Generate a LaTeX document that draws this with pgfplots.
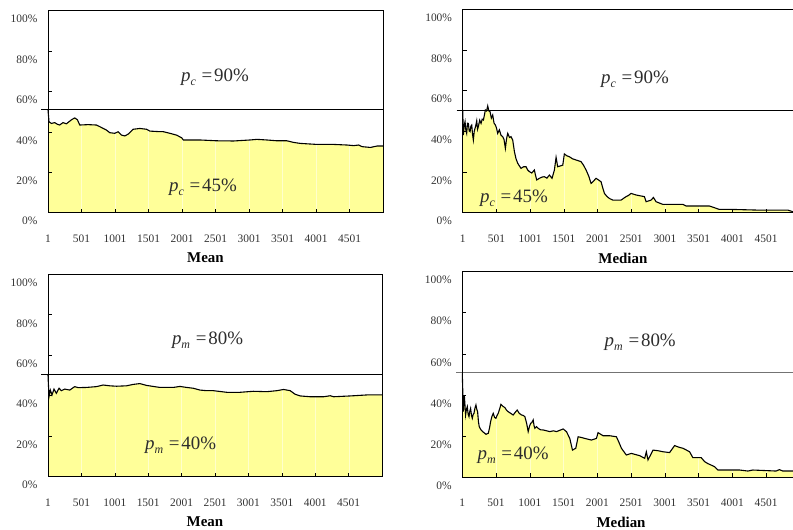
\documentclass[border=0pt]{standalone}
\usepackage{fontspec}
\setmainfont{Liberation Serif}
\usepackage{pgfplots}
\pgfplotsset{compat=1.18}
\usepackage{pgfplotstable}
\definecolor{fillyellow}{RGB}{255,255,153}
\definecolor{anntext}{RGB}{45,45,45}

\pgfplotstableread{
x y
1 51
16 45.0
51 44.2
101 44.6
140 43.8
175 43.4
225 44.6
275 44.0
325 45.3
360 46.2
400 46.9
440 46.0
475 43.4
600 43.6
724 43.4
774 42.6
873 40.9
923 39.6
998 39.3
1048 40.1
1098 38.4
1148 38.0
1197 38.9
1272 41.3
1372 41.7
1472 41.3
1521 40.4
1671 40.1
1721 40.1
1821 39.3
1920 38.4
1995 37.1
2020 36.0
2269 36.0
2518 35.6
2768 35.5
3017 36.0
3117 36.3
3266 36.0
3416 35.6
3565 35.6
3665 34.8
3765 34.3
4014 33.8
4263 33.8
4463 33.5
4562 33.2
4637 33.5
4687 32.7
4812 32.3
4911 33.0
5000 33.0
}\tlmean

\pgfplotstableread{
x y
1 50.5
11 38.2
24 43.0
36 44.8
48 40.5
60 39.0
72 44.0
85 43.9
97 40.2
110 39.8
122 42.5
135 43.1
147 38.5
159 35.7
172 40.0
184 41.5
196 43.0
209 45.2
221 41.0
233 42.3
253 45.5
273 43.9
290 46.0
308 45.6
323 48.0
337 50.5
355 50.0
372 52.5
389 50.0
406 49.7
426 46.5
446 48.0
466 44.0
486 43.1
503 41.5
520 39.0
545 40.7
570 38.0
594 37.4
614 36.0
634 31.6
652 36.5
669 39.0
695 37.0
718 37.4
743 35.7
768 30.0
792 26.5
817 24.3
842 23.0
866 21.8
905 22.6
941 22.6
965 21.0
990 20.2
1025 19.5
1064 21.0
1080 18.5
1099 16.1
1138 16.9
1175 17.5
1213 17.7
1250 17.0
1287 18.5
1326 16.9
1361 21.0
1386 27.2
1410 22.6
1450 23.0
1485 23.4
1509 28.9
1545 28.0
1583 27.5
1630 26.5
1682 25.9
1720 25.5
1756 25.1
1790 23.5
1831 21.0
1870 18.0
1905 14.4
1940 15.5
1979 16.9
2020 16.0
2053 15.2
2080 12.0
2103 9.5
2140 8.0
2177 7.0
2226 6.2
2350 6.2
2424 7.9
2460 8.5
2498 9.5
2572 8.7
2696 7.9
2721 5.4
2795 6.2
2830 7.5
2869 5.4
2968 4.1
3265 4.1
3314 3.3
3660 3.3
3809 1.6
4006 1.6
4353 1.3
4823 1.3
4897 0.5
}\trmedian

\pgfplotstableread{
x y
1 50.2
16 39.5
36 42.8
61 40.4
91 43.3
126 41.2
166 43.7
201 42.5
251 43.3
326 42.8
401 44.5
451 44.0
576 44.1
726 44.5
826 45.3
926 44.9
1026 44.7
1176 44.9
1276 45.6
1376 46.0
1476 45.1
1576 44.6
1676 44.1
1876 44.1
1976 44.6
2076 44.1
2176 43.7
2276 42.8
2376 42.5
2476 42.5
2676 41.7
2876 41.7
3076 42.2
3276 42.0
3426 42.5
3526 43.1
3626 42.5
3701 40.7
3776 39.9
3926 39.5
4126 39.5
4226 40.0
4276 39.5
4526 39.9
4776 40.4
5000 40.4
}\blmean

\pgfplotstableread{
x y
1 50.5
16 31.8
31 39.9
50 30.2
62 33.0
75 34.3
88 30.5
100 29.4
112 32.0
124 33.4
137 30.0
149 28.6
162 30.5
174 31.0
188 33.5
203 35.1
215 33.0
228 31.8
240 27.0
252 24.5
277 23.0
302 22.1
326 21.5
351 20.8
386 21.3
405 24.0
420 26.9
440 29.5
459 31.0
479 29.0
499 28.6
516 30.0
533 31.0
553 33.0
573 35.4
600 34.5
632 33.8
657 32.5
681 31.8
718 31.0
755 30.2
785 31.5
814 32.6
845 31.0
879 30.2
903 30.0
928 29.4
955 26.0
977 22.1
995 24.5
1012 26.1
1030 26.5
1051 27.8
1064 25.0
1076 23.7
1100 24.5
1125 23.7
1160 23.0
1199 22.9
1250 22.5
1298 22.1
1350 22.5
1396 22.1
1450 22.8
1495 23.4
1544 22.1
1593 18.8
1633 13.1
1682 14.0
1717 19.6
1770 19.2
1815 18.8
1914 18.0
1988 18.8
2012 21.6
2086 20.1
2185 20.1
2284 19.6
2320 17.0
2358 14.0
2431 10.7
2505 11.5
2560 11.0
2628 10.4
2703 9.1
2727 12.3
2752 8.3
2826 13.1
2900 12.8
2974 12.3
3072 11.9
3146 15.3
3210 14.5
3270 14.0
3368 12.3
3417 9.4
3541 9.4
3590 7.5
3640 6.5
3688 5.8
3738 5.0
3787 3.4
4108 3.4
4231 2.9
4305 3.4
4650 2.9
4699 3.6
4748 2.9
4897 2.9
}\brmedian

\newcommand{\ann}[3]{\fontsize{19}{22}\selectfont\color{anntext}\textit{#1}\raisebox{-0.5ex}{\fontsize{12}{13}\selectfont\textit{#2}}\hspace{0.3em}=\hspace{0.1em}#3\%}
\newcommand{\whitegrid}{\pgfplotsinvokeforeach{501,1001,1501,2001,2501,3001,3501,4001,4501}{\draw[white, line width=0.3pt, opacity=0.5] (axis cs:##1,0) -- (axis cs:##1,60);}}

\pgfplotsset{
  base/.style={
    scale only axis,
    anchor=south west,
    ymin=0, ymax=100, xmin=1,
    xtick={1,501,1001,1501,2001,2501,3001,3501,4001,4501},
    xticklabels={1,501,1001,1501,2001,2501,3001,3501,4001,4501},
    ytick={0,20,40,60,80,100},
    yticklabels={0\%,20\%,40\%,60\%,80\%,100\%},
    tick align=inside,
    major tick length=4bp,
    xtick pos=left, ytick pos=left,
    axis on top,
    clip=false,
    axis line style={-, line width=0.9pt, black},
    every tick/.style={black, line width=0.6pt},
    tick label style={font=\fontsize{11.5}{13}\selectfont, text=black!80},
    xticklabel style={anchor=center, inner sep=0pt, yshift=-26bp},
    yticklabel style={anchor=east, inner sep=0pt, xshift=-10.5bp, yshift=-8.5bp},
  },
  rightax/.style={
    base,
    separate axis lines,
    axis x line*=box,
    axis y line*=left,
    xmax=4900,
  },
  leftax/.style={base, xmax=5000},
}

\begin{document}
\begin{tikzpicture}
\useasboundingbox (0,0) rectangle (793bp,530bp);

% Top left
\begin{axis}[leftax, at={(48bp,317.3bp)}, width=335bp, height=202bp]
\addplot[draw=none, fill=fillyellow] table {\tlmean} \closedcycle;
\whitegrid
\addplot[black, line width=1.1pt] table {\tlmean};
\draw[black, line width=0.7pt] ([xshift=-7bp]axis cs:1,51) -- (axis cs:5000,51);
\node at (axis cs:2493,67.2) {\ann{p}{c}{90}};
\node at (axis cs:2314,12.7) {\ann{p}{c}{45}};
\node[font=\fontsize{15}{17}\selectfont\bfseries] at ([yshift=-45.3bp]axis description cs:0.47,0) {Mean};
\end{axis}

% Top right
\begin{axis}[rightax, at={(462.7bp,317.3bp)}, width=330.3bp, height=203.4bp]
\addplot[draw=none, fill=fillyellow] table {\trmedian} \closedcycle;
\whitegrid
\addplot[black, line width=1.1pt] table {\trmedian};
\draw[black, line width=0.7pt] ([xshift=-6bp]axis cs:1,50.5) -- (axis cs:4900,50.5);
\node at (axis cs:2557,65.7) {\ann{p}{c}{90}};
\node at (axis cs:762,7.2) {\ann{p}{c}{45}};
\node[font=\fontsize{15}{17}\selectfont\bfseries] at ([yshift=-45.3bp]axis description cs:0.485,0) {Median};
\end{axis}

% Bottom left
\begin{axis}[leftax, at={(48bp,53.3bp)}, width=334bp, height=202.4bp]
\addplot[draw=none, fill=fillyellow] table {\blmean} \closedcycle;
\whitegrid
\addplot[black, line width=1.1pt] table {\blmean};
\draw[black, line width=0.7pt] ([xshift=-7bp]axis cs:1,50.6) -- (axis cs:5000,50.6);
\node at (axis cs:2389,67.5) {\ann{p}{m}{80}};
\node at (axis cs:1986,15.7) {\ann{p}{m}{40}};
\node[font=\fontsize{15}{17}\selectfont\bfseries] at ([yshift=-45.3bp]axis description cs:0.47,0) {Mean};
\end{axis}

% Bottom right
\begin{axis}[rightax, at={(462.3bp,53bp)}, width=330.7bp, height=205.3bp]
\addplot[draw=none, fill=fillyellow] table {\brmedian} \closedcycle;
\whitegrid
\addplot[black, line width=1.1pt] table {\brmedian};
\draw[black!55, line width=1.5pt] ([xshift=-6bp]axis cs:1,50.8) -- (axis cs:4900,50.8);
\node at (axis cs:2637,65.8) {\ann{p}{m}{80}};
\node at (axis cs:753,10.7) {\ann{p}{m}{40}};
\node[font=\fontsize{15}{17}\selectfont\bfseries] at ([yshift=-45bp]axis description cs:0.48,0) {Median};
\end{axis}
\end{tikzpicture}
\end{document}
